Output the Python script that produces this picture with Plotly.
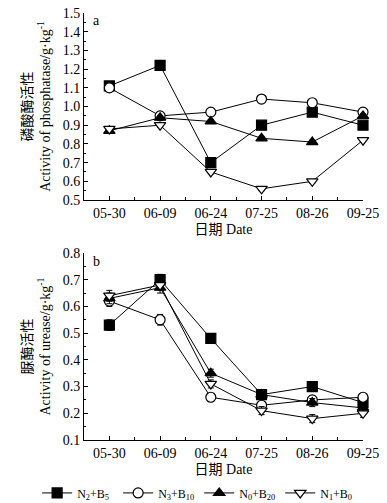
import plotly.graph_objects as go
from plotly.subplots import make_subplots

dates = ["05-30", "06-09", "06-24", "07-25", "08-26", "09-25"]
series_names = ["N<sub>2</sub>+B<sub>5</sub>", "N<sub>3</sub>+B<sub>10</sub>",
                "N<sub>0</sub>+B<sub>20</sub>", "N<sub>1</sub>+B<sub>0</sub>"]

phos_N2B5 = [1.11, 1.22, 0.70, 0.90, 0.97, 0.90]
phos_N3B10 = [1.10, 0.95, 0.97, 1.04, 1.02, 0.97]
phos_N0B20 = [0.87, 0.94, 0.92, 0.83, 0.81, 0.95]
phos_N1B0 = [0.88, 0.90, 0.65, 0.56, 0.60, 0.82]
phos_err = [0.01, 0.01, 0.01, 0.01, 0.01, 0.01]

ure_N2B5 = [0.53, 0.70, 0.48, 0.27, 0.30, 0.24]
ure_N3B10 = [0.62, 0.55, 0.26, 0.23, 0.25, 0.26]
ure_N0B20 = [0.63, 0.67, 0.35, 0.27, 0.24, 0.22]
ure_N1B0 = [0.64, 0.68, 0.31, 0.21, 0.18, 0.20]
ure_err = [0.02, 0.02, 0.015, 0.015, 0.015, 0.015]

styles = [
    dict(symbol="square", color="black"),
    dict(symbol="circle", color="white"),
    dict(symbol="triangle-up", color="black"),
    dict(symbol="triangle-down", color="white"),
]
legend_ids = ["legend", "legend", "legend2", "legend2"]

FONT = "Liberation Serif, Noto Sans CJK SC, serif"

fig = make_subplots(rows=2, cols=1, vertical_spacing=0.124)
xs = list(range(len(dates)))

for row, data, err in [(1, [phos_N2B5, phos_N3B10, phos_N0B20, phos_N1B0], phos_err),
                       (2, [ure_N2B5, ure_N3B10, ure_N0B20, ure_N1B0], ure_err)]:
    for name, ys, st, lg in zip(series_names, data, styles, legend_ids):
        fig.add_trace(go.Scatter(
            x=xs, y=ys, name=name, mode="lines+markers",
            line=dict(color="black", width=1),
            marker=dict(symbol=st["symbol"], color=st["color"], size=10,
                        line=dict(color="black", width=1.2)),
            error_y=dict(type="data", array=err, color="black", thickness=1, width=3),
            cliponaxis=False, showlegend=(row == 1), legend=lg,
        ), row=row, col=1)

common_x = dict(
    range=[-0.5, 5], tickvals=xs, ticktext=dates, showline=True, linecolor="black",
    linewidth=1, ticks="inside", ticklen=4, tickcolor="black", showgrid=False,
    zeroline=False, minor=dict(dtick=0.5, tick0=0, ticks="inside", ticklen=3, tickcolor="black"),
    tickfont=dict(size=14, family=FONT, color="black"), ticklabeloverflow="allow",
    title=dict(text="日期 Date", font=dict(size=14, family=FONT, color="black"), standoff=4),
)
fig.update_xaxes(**common_x, row=1, col=1)
fig.update_xaxes(**common_x, row=2, col=1)

common_y = dict(
    dtick=0.1, tickformat=".1f", showline=True, linecolor="black", linewidth=1,
    ticks="inside", ticklen=4, tickcolor="black", showgrid=False, zeroline=False,
    minor=dict(dtick=0.05, ticks="inside", ticklen=2, tickcolor="black"),
    tickfont=dict(size=14, family=FONT, color="black"), ticklabeloverflow="allow",
)
fig.update_yaxes(**common_y, range=[0.5, 1.5], row=1, col=1,
                 title=dict(text="磷酸酶活性<br>Activity of phosphatase/g·kg<sup>-1</sup>",
                            font=dict(size=14, family=FONT, color="black"), standoff=8))
fig.update_yaxes(**common_y, range=[0.1, 0.8], row=2, col=1,
                 title=dict(text="脲酶活性<br>Activity of urease/g·kg<sup>-1</sup>",
                            font=dict(size=14, family=FONT, color="black"), standoff=8))

fig.add_annotation(text="a", x=0.025, y=1.005, xref="paper", yref="paper", showarrow=False,
                   font=dict(size=14, family=FONT, color="black"), xanchor="left", yanchor="top")
fig.add_annotation(text="b", x=0.025, y=0.44, xref="paper", yref="paper", showarrow=False,
                   font=dict(size=14, family=FONT, color="black"), xanchor="left", yanchor="top")

legend_common = dict(orientation="h", xanchor="left", y=-0.09, yanchor="top",
                     itemwidth=30, entrywidth=36, entrywidthmode="pixels",
                     font=dict(size=12, family=FONT, color="black"), tracegroupgap=0,
                     bgcolor="rgba(0,0,0,0)")

fig.update_layout(
    width=379, height=495, margin=dict(l=76, r=24, t=5, b=63, autoexpand=False),
    plot_bgcolor="white", paper_bgcolor="white",
    font=dict(family=FONT, color="black"),
    legend=dict(x=-0.168, **legend_common),
    legend2=dict(x=0.413, **legend_common),
)

fig.write_html("out.html")
